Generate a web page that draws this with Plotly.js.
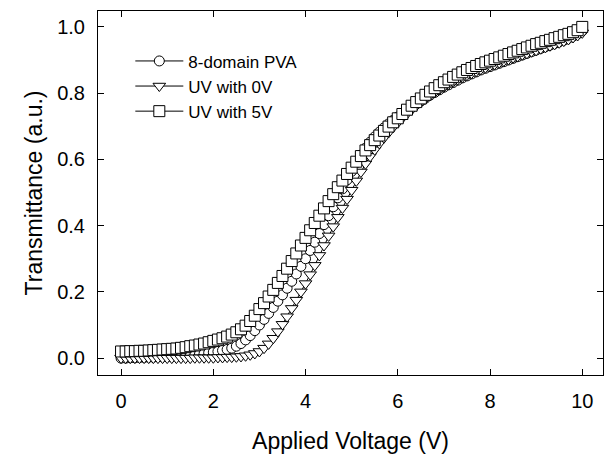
<!DOCTYPE html>
<html>
<head>
<meta charset="utf-8">
<script src="https://cdn.plot.ly/plotly-3.0.1.min.js"></script>
<style>html,body{margin:0;padding:0;background:#fff;}#chart{width:604px;height:457px;}</style>
</head>
<body>
<div id="chart"></div>
<script>
// Applied voltage (V), 0 to 10 in 0.1 V steps
var voltage = [];
for (var i = 0; i <= 100; i++) { voltage.push(i / 10); }

var seriesNames = ["8-domain PVA", "UV with 0V", "UV with 5V"];

var pva8domain = [
  0.000,0.000,0.001,0.001,0.002,0.002,0.003,0.003,0.004,0.004,
  0.005,0.005,0.006,0.007,0.008,0.009,0.010,0.012,0.014,0.016,
  0.018,0.020,0.023,0.026,0.030,0.036,0.044,0.055,0.068,0.083,
  0.100,0.117,0.135,0.153,0.172,0.191,0.211,0.232,0.254,0.277,
  0.300,0.325,0.350,0.376,0.403,0.430,0.457,0.484,0.511,0.538,
  0.564,0.590,0.613,0.634,0.652,0.668,0.682,0.695,0.707,0.718,
  0.728,0.738,0.748,0.758,0.767,0.776,0.785,0.794,0.802,0.810,
  0.818,0.825,0.832,0.839,0.846,0.852,0.858,0.864,0.870,0.875,
  0.880,0.885,0.890,0.895,0.900,0.905,0.910,0.915,0.920,0.925,
  0.930,0.935,0.940,0.945,0.950,0.955,0.960,0.966,0.972,0.979,
  0.988
];

var uv0V = [
  0.000,0.000,0.000,0.000,0.000,0.000,0.000,0.000,0.000,0.000,
  0.000,0.000,0.000,0.000,0.000,0.000,0.001,0.001,0.001,0.001,
  0.001,0.002,0.002,0.003,0.003,0.004,0.005,0.007,0.010,0.014,
  0.020,0.030,0.043,0.060,0.080,0.102,0.125,0.150,0.175,0.200,
  0.225,0.252,0.280,0.310,0.340,0.369,0.397,0.425,0.453,0.480,
  0.507,0.535,0.562,0.587,0.609,0.629,0.648,0.665,0.681,0.697,
  0.711,0.725,0.738,0.750,0.762,0.773,0.783,0.793,0.802,0.811,
  0.819,0.827,0.834,0.841,0.848,0.854,0.860,0.866,0.872,0.877,
  0.882,0.887,0.892,0.897,0.902,0.907,0.911,0.916,0.920,0.925,
  0.929,0.934,0.938,0.943,0.947,0.952,0.957,0.962,0.968,0.974,
  0.982
];

var uv5V = [
  0.020,0.020,0.021,0.021,0.022,0.022,0.023,0.024,0.025,0.026,
  0.027,0.028,0.029,0.031,0.033,0.036,0.038,0.041,0.044,0.048,
  0.052,0.056,0.060,0.065,0.071,0.078,0.087,0.098,0.112,0.128,
  0.148,0.166,0.186,0.206,0.227,0.248,0.270,0.293,0.316,0.340,
  0.363,0.386,0.408,0.430,0.452,0.474,0.495,0.516,0.536,0.556,
  0.575,0.593,0.610,0.627,0.643,0.658,0.672,0.686,0.699,0.712,
  0.724,0.737,0.750,0.762,0.773,0.784,0.795,0.805,0.815,0.824,
  0.833,0.841,0.849,0.856,0.863,0.870,0.876,0.882,0.888,0.893,
  0.898,0.903,0.908,0.913,0.918,0.923,0.928,0.933,0.938,0.943,
  0.948,0.952,0.957,0.961,0.966,0.970,0.975,0.979,0.984,0.990,
  1.000
];

var xTickVals = [0, 2, 4, 6, 8, 10];
var yTickVals = [0.0, 0.2, 0.4, 0.6, 0.8, 1.0];

var FONT = "Arial, 'Liberation Sans', sans-serif";

function mk(name, y, symbol, size) {
  return {
    x: voltage, y: y, name: name, type: "scatter", mode: "lines+markers",
    line: {color: "#000", width: 1},
    marker: {symbol: symbol, size: size, color: "#fff", line: {color: "#000", width: 1}}
  };
}

var data = [
  mk(seriesNames[0], pva8domain, "circle", 10),
  mk(seriesNames[1], uv0V, "triangle-down", 11),
  mk(seriesNames[2], uv5V, "square", 11)
];

var axisCommon = {
  showline: true, linecolor: "#000", linewidth: 1, mirror: "ticks",
  ticks: "inside", ticklen: 6, tickcolor: "#000", tickwidth: 1,
  showgrid: false, zeroline: false,
  tickfont: {family: FONT, size: 20, color: "#000"}
};

var layout = {
  width: 604, height: 457,
  margin: {l: 98, r: 1, t: 11, b: 82},
  paper_bgcolor: "#fff", plot_bgcolor: "#fff",
  showlegend: true,
  legend: {
    x: 0.064, y: 0.911, xanchor: "left", yanchor: "top",
    bgcolor: "rgba(0,0,0,0)", borderwidth: 0,
    font: {family: FONT, size: 17, color: "#000"},
    itemwidth: 48, tracegroupgap: 0
  },
  xaxis: Object.assign({}, axisCommon, {
    range: [-0.5, 10.45], tickvals: xTickVals, ticktext: xTickVals.map(String),
    ticklabelstandoff: 8,
    title: {text: "Applied Voltage (V)", font: {family: FONT, size: 23, color: "#000"}, standoff: 21}
  }),
  yaxis: Object.assign({}, axisCommon, {
    range: [-0.051, 1.048], tickvals: yTickVals, ticktext: yTickVals.map(function(v){return v.toFixed(1);}),
    ticklabelstandoff: 8,
    title: {text: "Transmittance (a.u.)", font: {family: FONT, size: 23, color: "#000"}, standoff: 8}
  })
};

Plotly.newPlot("chart", data, layout, {displayModeBar: false, staticPlot: true});
</script>
</body>
</html>
